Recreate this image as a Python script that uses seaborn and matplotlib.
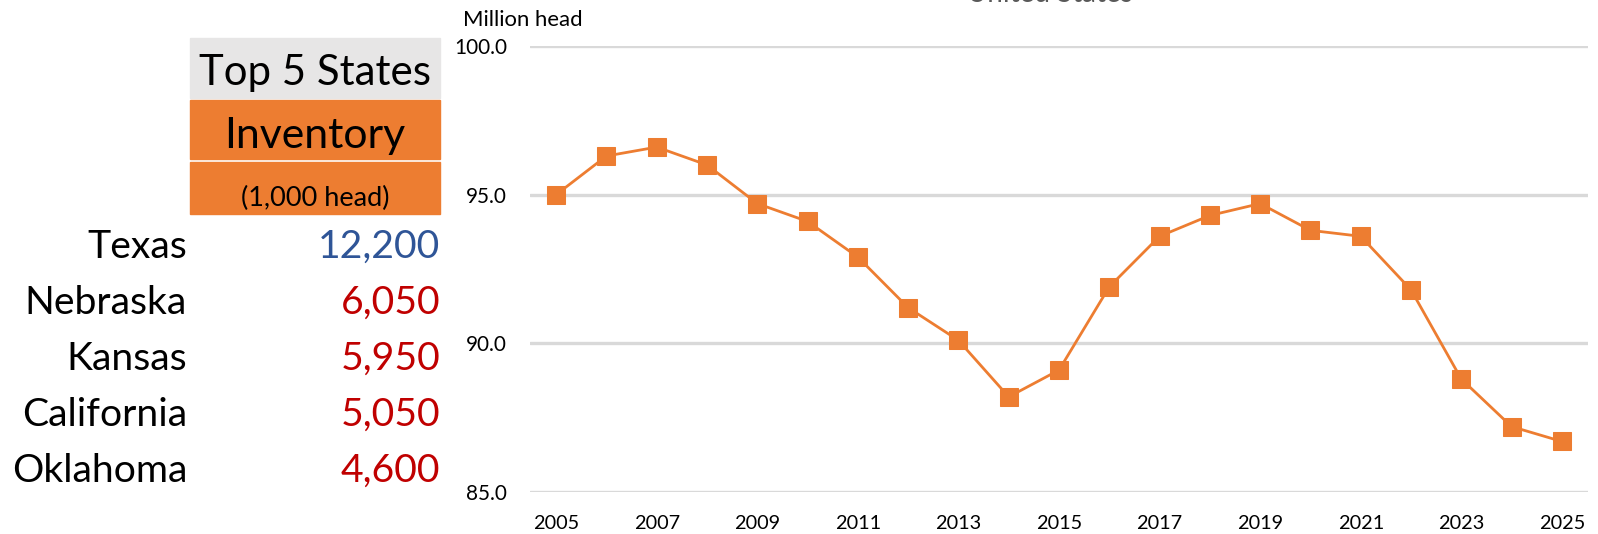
import matplotlib
matplotlib.use("Agg")
import matplotlib.pyplot as plt
from matplotlib.patches import Rectangle
import seaborn as sns
import pandas as pd

# ---- data ----
years = list(range(2005, 2026))
inventory = [95.0, 96.3, 96.6, 96.0, 94.7, 94.1, 92.9, 91.2, 90.1, 88.2,
             89.1, 91.9, 93.6, 94.3, 94.7, 93.8, 93.6, 91.8, 88.8, 87.2, 86.7]
states = ["Texas", "Nebraska", "Kansas", "California", "Oklahoma"]
state_values = ["12,200", "6,050", "5,950", "5,050", "4,600"]
xtick_years = list(range(2005, 2026, 2))
yticks = [85.0, 90.0, 95.0, 100.0]

sns.set_style("white")
plt.rcParams['font.family'] = ['Lato', 'DejaVu Sans']
plt.rcParams['text.color'] = 'black'

W, H = 1598, 534
DPI = 100
fig = plt.figure(figsize=(W / DPI, H / DPI), dpi=DPI)
renderer = fig.canvas.get_renderer()

def fx(px):
    return px / W

def fy(py):
    return 1 - py / H

def size_for(text, target_px, ref=20):
    t = fig.text(0, 0, text, fontsize=ref)
    w = t.get_window_extent(renderer=renderer).width
    t.remove()
    return ref * target_px / w

ax = fig.add_axes([fx(530), fy(492), fx(1588) - fx(530), fy(46) - fy(492)])

df = pd.DataFrame({"year": years, "inventory": inventory})
ORANGE = "#ED7D31"
ax.set_ylim(85, 100)
ax.set_xlim(2004.48, 2025.52)
for y in yticks:
    ax.axhline(y, color="#D9D9D9", lw=2.4, zorder=0)
sns.lineplot(data=df, x="year", y="inventory", ax=ax, color=ORANGE, lw=2.0,
             marker="s", markersize=12.5, markeredgecolor=ORANGE, zorder=3,
             clip_on=False)

tick_fs_x = size_for("2005", 46)
tick_fs_y = size_for("100.0", 53)
ax.set_xticks(xtick_years)
ax.set_xticklabels([str(y) for y in xtick_years], fontsize=tick_fs_x, color="black")
ax.set_yticks(yticks)
ax.set_yticklabels([f"{v:.1f}" for v in yticks], fontsize=tick_fs_y, color="black")
ax.tick_params(axis="both", length=0)
ax.tick_params(axis="x", pad=23 * 72 / DPI)
ax.tick_params(axis="y", pad=23 * 72 / DPI)
ax.set_xlabel("")
ax.set_ylabel("")
for s in ax.spines.values():
    s.set_visible(False)
ax.grid(False)

# axis unit label and (clipped) title
fig.text(fx(463), fy(26), "Million head", fontsize=size_for("Million head", 120),
         ha="left", va="baseline", color="black")
fig.text(fx(1050), fy(2.0), "United States", fontsize=20, ha="center",
         va="baseline", color="#595959")

# ---- left table ----
bx0, bx1 = fx(190), fx(440)
fig.patches.append(Rectangle((bx0, fy(98)), bx1 - bx0, fy(38) - fy(98),
                             transform=fig.transFigure, color="#E7E6E6", zorder=0))
fig.patches.append(Rectangle((bx0, fy(159)), bx1 - bx0, fy(100) - fy(159),
                             transform=fig.transFigure, color=ORANGE, zorder=0))
fig.patches.append(Rectangle((bx0, fy(214)), bx1 - bx0, fy(162) - fy(214),
                             transform=fig.transFigure, color=ORANGE, zorder=0))
cx = fx(315)
fig.text(cx, fy(85), "Top 5 States", fontsize=size_for("Top 5 States", 232),
         ha="center", va="baseline", color="black")
fig.text(cx, fy(148), "Inventory", fontsize=size_for("Inventory", 182),
         ha="center", va="baseline", color="black")
fig.text(cx, fy(206), "(1,000 head)", fontsize=size_for("(1,000 head)", 149),
         ha="center", va="baseline", color="black")

row_fs = (size_for("California", 175) + size_for("Oklahoma", 175)
          + size_for("12,200", 116)) / 3
row_baselines = [258, 314, 370, 426, 482]
for i, (name, val) in enumerate(zip(states, state_values)):
    yb = fy(row_baselines[i])
    fig.text(fx(187), yb, name, fontsize=row_fs, ha="right", va="baseline",
             color="black")
    col = "#2F5597" if i == 0 else "#C00000"
    fig.text(fx(440), yb, val, fontsize=row_fs, ha="right", va="baseline", color=col)

fig.savefig("out.png", dpi=DPI)
